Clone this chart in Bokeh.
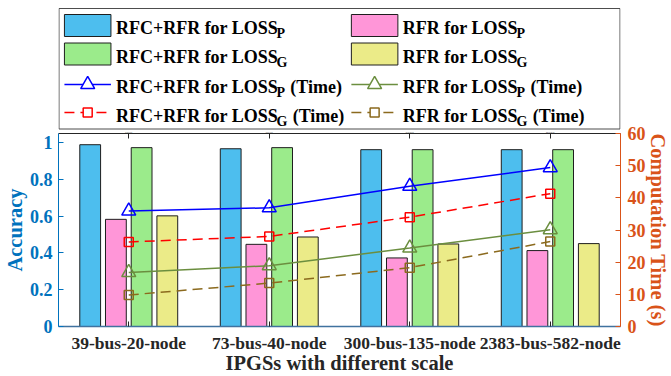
from bokeh.plotting import figure
from bokeh.models import Range1d, FactorRange, LinearAxis, CategoricalAxis, FixedTicker, ColumnDataSource
from bokeh.transform import dodge
from bokeh.layouts import column
from bokeh.core.properties import value
from bokeh.embed import file_html
from bokeh.resources import INLINE

# ---------------- data ----------------
categories = ["39-bus-20-node", "73-bus-40-node", "300-bus-135-node", "2383-bus-582-node"]

acc_rfc_rfr_p = [0.989, 0.967, 0.962, 0.962]
acc_rfr_p = [0.583, 0.447, 0.373, 0.413]
acc_rfc_rfr_g = [0.973, 0.973, 0.962, 0.962]
acc_rfr_g = [0.602, 0.487, 0.449, 0.451]

time_rfc_rfr_p = [35.9, 36.9, 43.6, 49.4]
time_rfr_p = [16.8, 18.9, 24.4, 30.1]
time_rfc_rfr_g = [26.3, 28.0, 34.0, 41.3]
time_rfr_g = [9.8, 13.5, 18.3, 26.4]

acc_ticks = [0, 0.2, 0.4, 0.6, 0.8, 1]
acc_tick_labels = ["0", "0.2", "0.4", "0.6", "0.8", "1"]
time_ticks = [0, 10, 20, 30, 40, 50, 60]

legend_main = ["RFC+RFR for LOSS", "RFR for LOSS", "RFC+RFR for LOSS", "RFR for LOSS",
               "RFC+RFR for LOSS", "RFR for LOSS", "RFC+RFR for LOSS", "RFR for LOSS"]
legend_sub = ["P", "P", "G", "G", "P", "P", "G", "G"]
legend_suffix = ["", "", "", "", "(Time)", "(Time)", "(Time)", "(Time)"]

# ---------------- styles ----------------
FONT = "Liberation Serif"
C_BLUE, C_PINK, C_GREEN, C_YELLOW = "#4DBEEE", "#FF96D8", "#9BEB8B", "#EBEB88"
L_BLUE, L_OLIVE, L_RED, L_BROWN = "#0000FF", "#6B8E3F", "#FF0000", "#8B6A1E"
AX_LEFT, AX_RIGHT, AX_TXT = "#0072BD", "#D95319", "#262626"
EDGE = "#1e1e1e"
W_PAGE, H_PAGE = 671, 376
FR_L, FR_R, FR_T, FR_B = 57, 625, 133, 326   # plot frame in page pixels
LEG_H = 131                                   # height of legend strip
OVL = 12                                      # overlap of the plot canvas over the legend strip
MAIN_TOP = LEG_H - OVL

data = dict(cat=categories, a1=acc_rfc_rfr_p, a2=acc_rfr_p, a3=acc_rfc_rfr_g, a4=acc_rfr_g,
            t1=time_rfc_rfr_p, t2=time_rfr_p, t3=time_rfc_rfr_g, t4=time_rfr_g)
src = ColumnDataSource(data)

# ---------------- main figure ----------------
p = figure(width=W_PAGE, height=H_PAGE - MAIN_TOP, x_range=FactorRange(*categories),
           y_range=Range1d(0, 1.05), toolbar_location=None, output_backend="svg",
           min_border_left=FR_L, min_border_right=W_PAGE - FR_R,
           min_border_top=FR_T - MAIN_TOP, min_border_bottom=H_PAGE - FR_B)
p.extra_y_ranges = {"time": Range1d(0, 60)}
p.grid.visible = False
p.outline_line_color = None
p.background_fill_color = "white"
p.border_fill_color = None

bw = 0.148
offs = [-0.2745, -0.0915, 0.0915, 0.2745]
for key, off, col in zip(["a1", "a2", "a3", "a4"], offs, [C_BLUE, C_PINK, C_GREEN, C_YELLOW]):
    p.vbar(x=dodge("cat", off, range=p.x_range), top=key, width=bw, source=src,
           fill_color=col, line_color=EDGE, line_width=1)

line_specs = [("t1", L_BLUE, "solid", "triangle", 14),
              ("t2", L_OLIVE, "solid", "triangle", 14),
              ("t3", L_RED, "10 6", "square", 9),
              ("t4", L_BROWN, "10 6", "square", 9)]
for key, col, dash, mk, sz in line_specs:
    p.line(x="cat", y=key, source=src, y_range_name="time", line_color=col,
           line_width=1.5, line_dash=dash)
    p.scatter(x="cat", y=key, source=src, y_range_name="time", marker=mk, size=sz,
              line_color=col, fill_color=None, line_width=1.5)


def style_axis(ax, color, tick_color, std, lstd):
    ax.minor_tick_line_color = None
    ax.major_tick_in = 5
    ax.major_tick_out = 0
    ax.major_tick_line_color = tick_color
    ax.major_label_text_color = color
    ax.major_label_text_font = FONT
    ax.major_label_text_font_style = "bold"
    ax.major_label_standoff = std
    ax.axis_label_text_color = color
    ax.axis_label_text_font = FONT
    ax.axis_label_text_font_style = "bold"
    ax.axis_label_text_font_size = "20.5px"
    ax.axis_label_text_line_height = 1.0
    ax.axis_label_standoff = lstd


# left axis
ya = p.yaxis[0]
ya.ticker = FixedTicker(ticks=acc_ticks)
ya.major_label_overrides = {t: l for t, l in zip(acc_ticks, acc_tick_labels)}
style_axis(ya, AX_LEFT, AX_LEFT, 6, 1)
ya.axis_line_color = AX_LEFT
ya.major_label_text_font_size = "18px"
ya.axis_label = "Accuracy"

# right axis
ra = LinearAxis(y_range_name="time", ticker=FixedTicker(ticks=time_ticks))
style_axis(ra, AX_RIGHT, AX_RIGHT, 7, -2)
ra.axis_line_color = AX_RIGHT
ra.major_label_text_font_size = "18px"
ra.axis_label = "Computation Time (s)"
p.add_layout(ra, "right")

# bottom axis
xa = p.xaxis[0]
style_axis(xa, AX_TXT, AX_TXT, 6, -4)
xa.axis_line_color = "#40729F"
xa.axis_line_width = 1.5
xa.major_label_text_font_size = "17.5px"
xa.axis_label = "IPGSs with different scale"

# top axis (box edge with inward ticks, no labels)
ta = CategoricalAxis()
ta.major_tick_in = 5
ta.major_tick_out = 0
ta.major_tick_line_color = AX_TXT
ta.axis_line_color = AX_TXT
ta.major_label_overrides = {c: "" for c in categories}
ta.major_label_text_font_size = "1px"
ta.major_label_standoff = 0
p.add_layout(ta, "above")

# ---------------- legend strip (page-pixel coordinates) ----------------
lg = figure(width=W_PAGE, height=LEG_H, x_range=Range1d(FR_L, FR_R), y_range=Range1d(LEG_H, 0),
            toolbar_location=None, output_backend="svg",
            min_border_left=FR_L, min_border_right=W_PAGE - FR_R, min_border_top=0,
            min_border_bottom=0, x_axis_location=None, y_axis_location=None)
lg.grid.visible = False
lg.outline_line_color = None
lg.background_fill_color = "white"
lg.border_fill_color = "white"
lg.margin = (0, 0, -OVL, 0)

lg.quad(left=[FR_L + 0.5], right=[FR_R - 0.5], top=[8], bottom=[128.5], fill_color=None,
        line_color="#4d4d4d", line_width=1)

col_x = [63, 353]
sw_w = 47
row_c = [25, 53.5, 84, 112]
base = [27.5, 56.5, 86.5, 115.5]
txt_x = [115, 405]

sw_cols = [C_BLUE, C_PINK, C_GREEN, C_YELLOW]
for i, c in enumerate(sw_cols):
    cx = col_x[i % 2]
    r = i // 2
    lg.quad(left=[cx], right=[cx + sw_w], top=[row_c[r] - 11], bottom=[row_c[r] + 11],
            fill_color=c, line_color=EDGE, line_width=1)

for j, (key, col, dash, mk, sz) in enumerate(line_specs):
    cx = col_x[j % 2]
    r = 2 + j // 2
    lg.line(x=[cx, cx + sw_w], y=[row_c[r], row_c[r]], line_color=col, line_width=1.5,
            line_dash=dash)
    lg.scatter(x=[cx + sw_w / 2], y=[row_c[r]], marker=mk, size=sz, line_color=col,
               fill_color="white", line_width=1.5)

# Times-Bold advance widths (Liberation Serif is metric compatible)
W = {'R': 722, 'F': 611, 'C': 722, '+': 570, ' ': 250, 'f': 333, 'o': 500, 'r': 444,
     'L': 667, 'O': 778, 'S': 556, '(': 333, ')': 333, 'T': 667, 'i': 278, 'm': 833,
     'e': 444, 'P': 611, 'G': 778}


def tw(s, fs):
    return sum(W.get(ch, 500) for ch in s) * fs / 1000.0


FS, FS_SUB = 18, 14
mx, my, mt, sx, sy, st, fx, fy, ft = [], [], [], [], [], [], [], [], []
for i in range(8):
    x0 = txt_x[i % 2]
    b = base[i // 2]
    mx.append(x0); my.append(b); mt.append(legend_main[i])
    xs = x0 + tw(legend_main[i], FS)
    sx.append(xs); sy.append(b + 5.5); st.append(legend_sub[i])
    if legend_suffix[i]:
        fx.append(xs + tw(legend_sub[i], FS_SUB) + tw(" ", FS) + 1)
        fy.append(b); ft.append(legend_suffix[i])

common = dict(text_font=value(FONT), text_font_style="bold", text_color="black",
              text_align="left", text_baseline="alphabetic")
lg.text(x=mx, y=my, text=mt, text_font_size="%dpx" % FS, **common)
lg.text(x=sx, y=sy, text=st, text_font_size="%dpx" % FS_SUB, **common)
lg.text(x=fx, y=fy, text=ft, text_font_size="%dpx" % FS, **common)

layout = column(lg, p, spacing=0)
open("out.html", "w").write(file_html(layout, INLINE))
